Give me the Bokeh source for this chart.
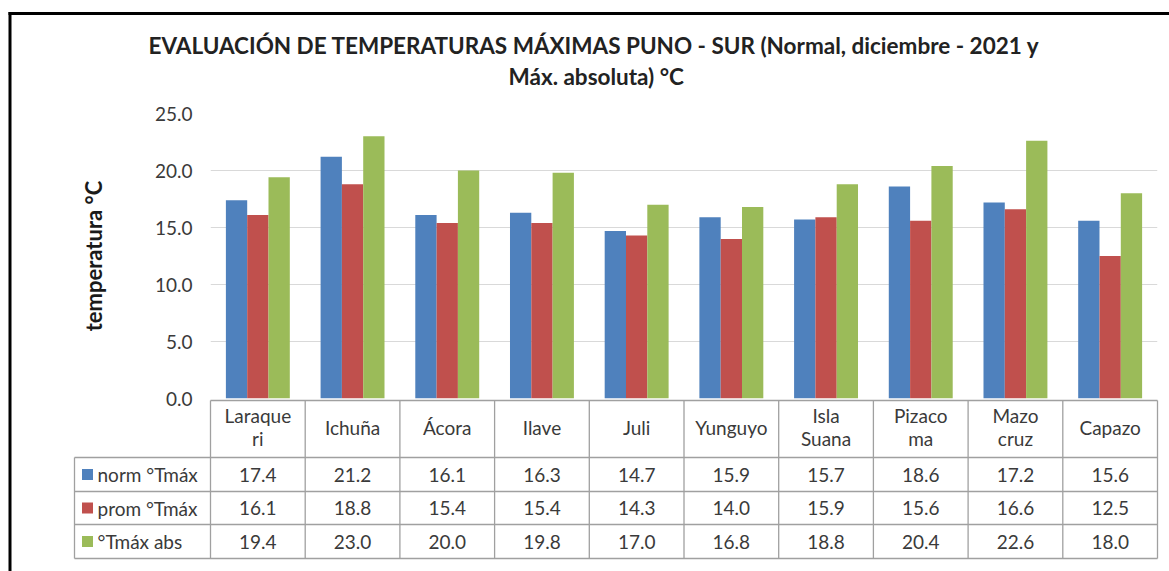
from bokeh.plotting import figure
from bokeh.models import Range1d, FixedTicker, PrintfTickFormatter, Title
from bokeh.core.properties import value
from bokeh.embed import file_html
from bokeh.resources import INLINE

# ---------------- data ----------------
station_labels = ["Laraque\nri", "Ichuña", "Ácora", "Ilave", "Juli", "Yunguyo",
                  "Isla\nSuana", "Pizaco\nma", "Mazo\ncruz", "Capazo"]
series_names = ["norm °Tmáx", "prom °Tmáx", "°Tmáx abs"]
norm_tmax = [17.4, 21.2, 16.1, 16.3, 14.7, 15.9, 15.7, 18.6, 17.2, 15.6]
prom_tmax = [16.1, 18.8, 15.4, 15.4, 14.3, 14.0, 15.9, 15.6, 16.6, 12.5]
abs_tmax = [19.4, 23.0, 20.0, 19.8, 17.0, 16.8, 18.8, 20.4, 22.6, 18.0]
y_ticks = [0, 5, 10, 15, 20, 25]
title_line1 = "EVALUACIÓN DE TEMPERATURAS MÁXIMAS PUNO - SUR  (Normal, diciembre - 2021 y"
title_line2 = "Máx. absoluta) °C"
y_label = "temperatura °C"

# ---------------- style / layout ----------------
series = [norm_tmax, prom_tmax, abs_tmax]
colors = ["#4f81bd", "#c0504d", "#9bbb59"]
FONT = "Lato"
TXT = "#3a3a3a"
GRID_TABLE = "#a0a0a0"
W, H = 1169, 571

n = len(station_labels)
FRAME_L, FRAME_R, FRAME_T, FRAME_B = 210, 1157, 113, 398   # canvas px
PX_X = (FRAME_R - FRAME_L) / n
PX_Y = (FRAME_B - FRAME_T) / 25.0


def tx(px):
    return (px - FRAME_L) / PX_X


def ty(py):
    return (FRAME_B - py) / PX_Y


p = figure(width=W, height=H, x_range=Range1d(0, n), y_range=Range1d(0, 25),
           output_backend="svg", toolbar_location=None, x_axis_location=None,
           min_border_left=FRAME_L, min_border_right=W - FRAME_R,
           min_border_top=FRAME_T, min_border_bottom=H - FRAME_B)
p.outline_line_color = None
p.xgrid.visible = False
p.ygrid.grid_line_color = "#d9d9d9"
p.ygrid.grid_line_width = 1

# titles (line 1 outer, line 2 next to the plot)
p.title.text = title_line1
p.title.align = "left"
p.title.offset = -62
p.title.text_font = FONT
p.title.text_font_size = "22.5px"
p.title.text_font_style = "bold"
p.title.text_color = "#222222"
p.title.standoff = -42
t2 = Title(text=title_line2, align="left", offset=298, text_font=FONT,
           text_font_size="22.5px", text_font_style="bold", text_color="#222222",
           standoff=47)
p.add_layout(t2, "above")

# y axis
yax = p.yaxis[0]
yax.ticker = FixedTicker(ticks=y_ticks)
yax.formatter = PrintfTickFormatter(format="%.1f")
yax.axis_line_color = None
yax.major_tick_line_color = None
yax.minor_tick_line_color = None
yax.major_label_standoff = 12
yax.major_label_text_font = FONT
yax.major_label_text_font_size = "19px"
yax.major_label_text_color = TXT
yax.axis_label = y_label
yax.axis_label_text_font = FONT
yax.axis_label_text_font_size = "22px"
yax.axis_label_text_font_style = "bold"
yax.axis_label_text_color = "#1a1a1a"
yax.axis_label_standoff = 45

# bars
bw = 0.225
for k, (vals, col) in enumerate(zip(series, colors)):
    xs = [i + 0.5 + (k - 1) * bw for i in range(n)]
    p.vbar(x=xs, top=vals, width=bw, bottom=0, fill_color=col, line_color=None)

# ---------------- data table below the chart ----------------
row_edges = [ty(400), ty(457), ty(491), ty(524), ty(558)]
left_col = tx(74)
vx0 = [float(i) for i in range(n + 1)] + [left_col]
vy0 = [row_edges[0]] * (n + 1) + [row_edges[1]]
vy1 = [row_edges[-1]] * (n + 2)
p.segment(x0=vx0, y0=vy0, x1=vx0, y1=vy1, line_color=GRID_TABLE, line_width=1.3, level="overlay")
hx0 = [0.0] + [left_col] * 4
p.segment(x0=hx0, y0=row_edges, x1=[float(n)] * 5, y1=row_edges,
          line_color=GRID_TABLE, line_width=1.3, level="overlay")

centers = [i + 0.5 for i in range(n)]
p.text(x=centers, y=[(row_edges[0] + row_edges[1]) / 2 + 0.15] * n, text=station_labels,
       text_align="center", text_baseline="middle", text_font=value(FONT),
       text_font_size="19px", text_color=TXT, text_line_height=1.0, level="overlay")

for k, (vals, col, name) in enumerate(zip(series, colors, series_names)):
    yc = (row_edges[k + 1] + row_edges[k + 2]) / 2
    p.text(x=centers, y=[yc] * n, text=[f"{v:.1f}" for v in vals],
           text_align="center", text_baseline="middle", text_font=value(FONT),
           text_font_size="19px", text_color=TXT, level="overlay")
    p.rect(x=[tx(87)], y=[yc], width=11, height=11, width_units="screen",
           height_units="screen", fill_color=col, line_color=None, level="overlay")
    p.text(x=[tx(97)], y=[yc], text=[name], text_align="left", text_baseline="middle",
           text_font=value(FONT), text_font_size="19px", text_color=TXT, level="overlay")

# outer chart frame (thick black border, top and left)
p.segment(x0=[tx(8), tx(9.5)], y0=[ty(13), ty(11.5)], x1=[tx(W), tx(9.5)],
          y1=[ty(13), ty(H)], line_color="black", line_width=3, level="overlay")

open("out.html", "w").write(file_html(p, INLINE))
